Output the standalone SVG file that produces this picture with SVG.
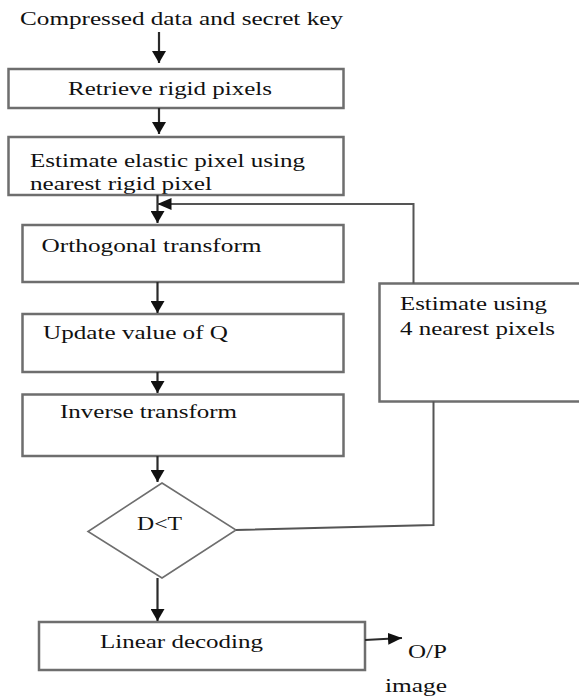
<svg xmlns="http://www.w3.org/2000/svg" width="579" height="696" viewBox="0 0 579 696" font-family="'Liberation Serif', serif">
<style>
  .box { fill: #ffffff; stroke: #6e6e6e; stroke-width: 2.5; }
  .dia { fill: #ffffff; stroke: #6e6e6e; stroke-width: 1.6; }
  .t { font-family: 'Liberation Serif', serif; font-size: 19px; fill: #111111; }
  .ln { fill: none; stroke: #2a2a2a; stroke-width: 2.2; }
  .fb { fill: none; stroke: #555555; stroke-width: 2; }
</style>
<defs>
  <marker id="ah" markerUnits="userSpaceOnUse" markerWidth="14" markerHeight="14" refX="12" refY="7" orient="auto">
    <path d="M0,0 L12,7 L0,14 z" fill="#111111"/>
  </marker>
  <marker id="ahs" markerUnits="userSpaceOnUse" markerWidth="14" markerHeight="12" refX="14" refY="6" orient="auto">
    <path d="M0,0 L14,6 L0,12 z" fill="#111111"/>
  </marker>
</defs>

<g id="start">
  <text class="t" x="20" y="25" textLength="323" lengthAdjust="spacingAndGlyphs">Compressed data and secret key</text>
</g>

<g id="retrieve">
  <rect class="box" x="8.5" y="69" width="335" height="39"/>
  <text class="t" x="68" y="95" textLength="204" lengthAdjust="spacingAndGlyphs">Retrieve rigid pixels</text>
</g>

<g id="estimate-elastic">
  <text class="t" x="30" y="167" textLength="275" lengthAdjust="spacingAndGlyphs">Estimate elastic pixel using</text>
  <text class="t" x="30" y="190" textLength="182" lengthAdjust="spacingAndGlyphs">nearest rigid pixel</text>
  <rect class="box" x="8.5" y="137" width="335" height="58" style="fill:none"/>
</g>

<g id="orthogonal">
  <rect class="box" x="22.5" y="225" width="321" height="57"/>
  <text class="t" x="41.5" y="252" textLength="220" lengthAdjust="spacingAndGlyphs">Orthogonal transform</text>
</g>

<g id="update">
  <rect class="box" x="22.5" y="314" width="321" height="58"/>
  <text class="t" x="43" y="339" textLength="185" lengthAdjust="spacingAndGlyphs">Update value of Q</text>
</g>

<g id="inverse">
  <rect class="box" x="22.5" y="394.5" width="321" height="61.5"/>
  <text class="t" x="60" y="418" textLength="177" lengthAdjust="spacingAndGlyphs">Inverse transform</text>
</g>

<g id="estimate-4">
  <rect class="box" x="379.5" y="283.5" width="210" height="118"/>
  <text class="t" x="400" y="310" textLength="147" lengthAdjust="spacingAndGlyphs">Estimate using</text>
  <text class="t" x="400" y="335" textLength="155" lengthAdjust="spacingAndGlyphs">4 nearest pixels</text>
</g>

<g id="decision">
  <polygon class="dia" points="162,483 236,530 162,578 88,531.5"/>
  <text class="t" x="137" y="530" textLength="45" lengthAdjust="spacingAndGlyphs">D&lt;T</text>
</g>

<g id="linear">
  <rect class="box" x="39" y="622" width="326" height="48"/>
  <text class="t" x="100" y="648" textLength="163" lengthAdjust="spacingAndGlyphs">Linear decoding</text>
</g>

<g id="output">
  <text class="t" x="408" y="658" textLength="39" lengthAdjust="spacingAndGlyphs">O/P</text>
  <text class="t" x="385" y="692" textLength="62" lengthAdjust="spacingAndGlyphs">image</text>
</g>

<g id="connectors">
  <line class="ln" x1="159" y1="32" x2="159" y2="63" marker-end="url(#ah)"/>
  <line class="ln" x1="159" y1="108" x2="159" y2="134" marker-end="url(#ah)"/>
  <line class="ln" x1="157.5" y1="195" x2="157.5" y2="223" marker-end="url(#ah)"/>
  <polyline class="fb" points="413.5,283.5 413.5,204 157.5,204" marker-end="url(#ahs)"/>
  <line class="ln" x1="157.5" y1="282" x2="157.5" y2="313" marker-end="url(#ah)"/>
  <line class="ln" x1="157.5" y1="372" x2="157.5" y2="393" marker-end="url(#ah)"/>
  <line class="ln" x1="157.5" y1="456" x2="157.5" y2="482" marker-end="url(#ah)"/>
  <polyline class="fb" points="236,530 433.5,525 433.5,401.5"/>
  <line class="ln" x1="157.5" y1="578" x2="157.5" y2="621" marker-end="url(#ah)"/>
  <line class="ln" x1="365" y1="640" x2="402" y2="638" marker-end="url(#ahs)"/>
</g>
</svg>
